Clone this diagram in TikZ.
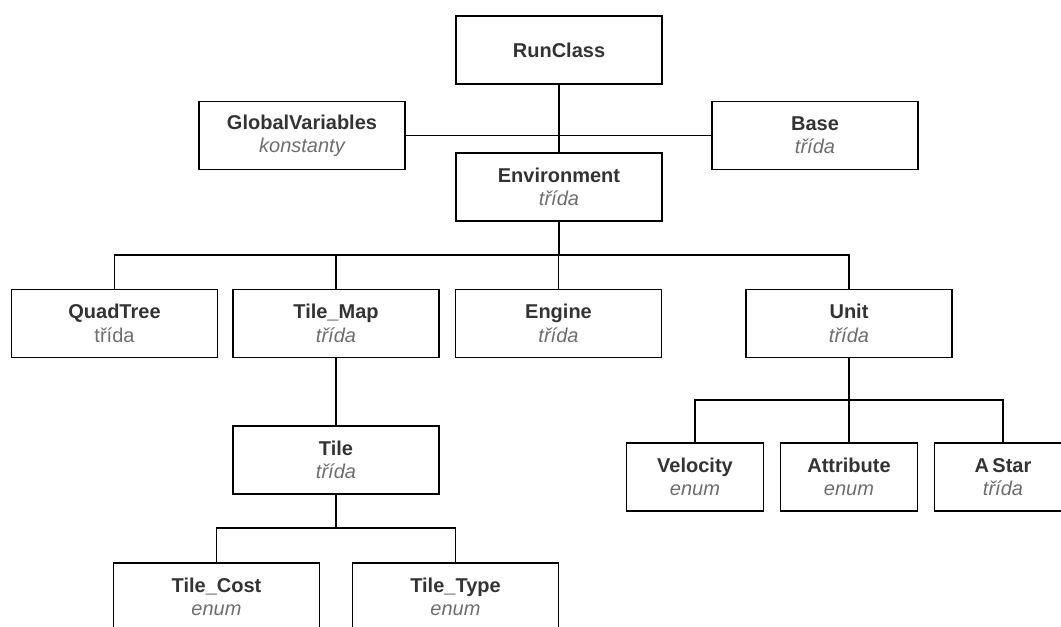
\documentclass[tikz,border=0pt]{standalone}
\usepackage{fontspec}
\setmainfont{Liberation Sans}
\usepackage{tikz}
\definecolor{namegray}{HTML}{333333}
\definecolor{kindgray}{HTML}{6E6E6E}

\begin{document}
\begin{tikzpicture}[x=0.75pt,y=-0.75pt,line width=1pt,
  cls/.style={draw,rectangle,minimum width=154.5pt,minimum height=51pt,
    inner sep=0pt,align=center,text=namegray,
    font=\fontsize{15}{17.5}\selectfont\bfseries},
  small/.style={cls,minimum width=102.75pt}]
\clip (0,0) rectangle (1061,626);
\node[cls](run) at (559,50){RunClass};
\node[cls](glob) at (302,135.5){GlobalVariables\\{\mdseries\itshape\color{kindgray}konstanty}};
\node[cls](base) at (815,135.5){Base\\{\mdseries\itshape\color{kindgray}třída}};
\node[cls](env) at (559,187){Environment\\{\mdseries\itshape\color{kindgray}třída}};
\node[cls](quad) at (114.5,323.5){QuadTree\\{\mdseries\color{kindgray}třída}};
\node[cls](tmap) at (336,323.5){Tile\_Map\\{\mdseries\itshape\color{kindgray}třída}};
\node[cls](engine) at (558.5,323.5){Engine\\{\mdseries\itshape\color{kindgray}třída}};
\node[cls](unit) at (849,323.5){Unit\\{\mdseries\itshape\color{kindgray}třída}};
\node[cls](tile) at (336,460){Tile\\{\mdseries\itshape\color{kindgray}třída}};
\node[cls](tcost) at (216.5,597){Tile\_Cost\\{\mdseries\itshape\color{kindgray}enum}};
\node[cls](ttype) at (455.5,597){Tile\_Type\\{\mdseries\itshape\color{kindgray}enum}};
\node[small](vel) at (695,477){Velocity\\{\mdseries\itshape\color{kindgray}enum}};
\node[small](attr) at (849,477){Attribute\\{\mdseries\itshape\color{kindgray}enum}};
\node[small](astar) at (1003,477){A\,Star\\{\mdseries\itshape\color{kindgray}třída}};

\coordinate (envbus) at (559,255);
\coordinate (tilebus) at (336,528);
\coordinate (unitbus) at (849,400);

\draw (run.south) -- (env.north);
\draw (glob.east) -- (base.west);
\draw (env.south) -- (envbus);
\draw (envbus) -| (quad.north);
\draw (envbus) -| (tmap.north);
\draw (envbus) -| (engine.north);
\draw (envbus) -| (unit.north);
\draw (tmap.south) -- (tile.north);
\draw (tile.south) -- (tilebus);
\draw (tilebus) -| (tcost.north);
\draw (tilebus) -| (ttype.north);
\draw (unit.south) -- (unitbus);
\draw (unitbus) -| (vel.north);
\draw (unitbus) -| (attr.north);
\draw (unitbus) -| (astar.north);
\end{tikzpicture}
\end{document}
